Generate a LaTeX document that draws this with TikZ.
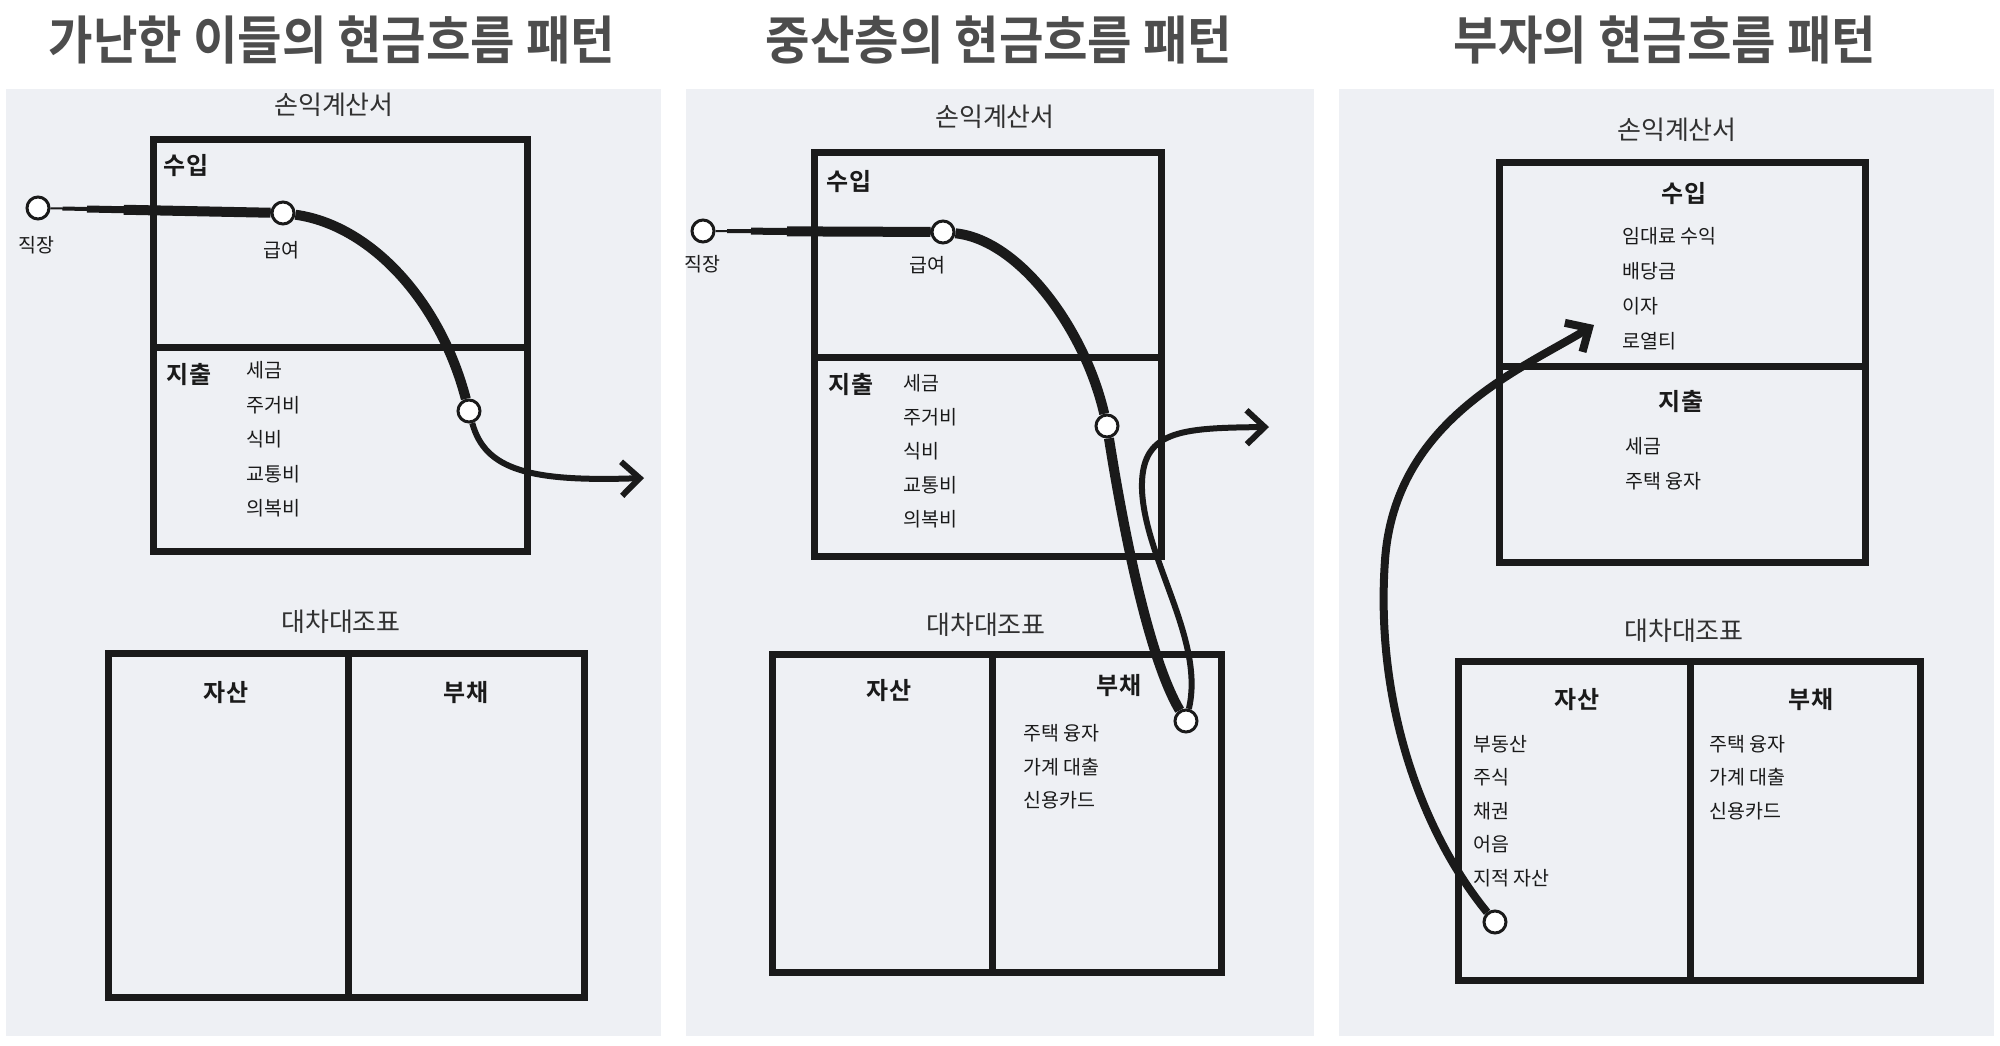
\documentclass[tikz,border=0pt]{standalone}
\usepackage{fontspec}
\setmainfont{Noto Sans CJK KR}[BoldFont={Noto Sans CJK KR Bold}]
\newfontfamily\ttlfont{Noto Sans CJK KR Bold}[FakeStretch=0.93]
\usepackage{tikz}
\usetikzlibrary{arrows.meta,calc}
\definecolor{paper}{HTML}{EEF0F4}
\definecolor{ink}{HTML}{1A1A1A}
\definecolor{ttlgray}{HTML}{4D4D4D}
\pgfdeclarelayer{back}
\pgfdeclarelayer{front}
\pgfsetlayers{back,main,front}
\tikzstyle{ttl} = [text=ttlgray, font=\ttlfont\fontsize{52}{56}\selectfont]
\tikzstyle{sheet} = [text=ink!90, font=\fontsize{26}{28}\selectfont]
\tikzstyle{hdr} = [text=ink, font=\bfseries\fontsize{24}{26}\selectfont]
\tikzstyle{itm} = [text=ink, anchor=west, inner sep=0pt, font=\fontsize{19.5}{21}\selectfont]
\tikzstyle{lbl} = [text=ink, font=\fontsize{19.5}{21}\selectfont]
\tikzstyle{ndpt} = [draw=ink, line width=3pt, fill=white, shape=circle, minimum size=22pt, inner sep=0pt]
\tikzstyle{sheetbox} = [draw=ink, line width=7pt]
\tikzstyle{flow} = [style={draw=ink, line width=10pt}]
\tikzstyle{flowtip} = [style={-{Straight Barb[length=18pt,width=34pt]}, draw=ink, line width=6pt}]

\begin{document}
\begin{tikzpicture}[x=1pt,y=-1pt]
        \useasboundingbox (0,0) rectangle (2000,1046);
        \begin{pgfonlayer}{back}
        \fill[paper] (6,89) rectangle (661,1036);
        \fill[paper] (686,89) rectangle (1314,1036);
        \fill[paper] (1339,89) rectangle (1994,1036);
        \end{pgfonlayer}
        \node[ttl] (t1) at (332,40) {가난한 이들의 현금흐름 패턴};
        \node[ttl] (t2) at (999,40) {중산층의 현금흐름 패턴};
        \node[ttl] (t3) at (1665,40) {부자의 현금흐름 패턴};

        % poor
        \node[sheet] (is1) at (334,105) {손익계산서};
        \draw[sheetbox] (153,140) rectangle (527,551);
        \draw[sheetbox] (153,347) -- (527,347);
        \node[hdr] (inc1) at (186,166) {수입};
        \node[hdr] (exp1) at (189,375) {지출};
        \foreach \t [count=\i] in {세금,주거비,식비,교통비,의복비}
          \node[itm] (ex1\i) at (246,336+34.5*\i) {\t};
        \node[lbl] (wl1) at (36,245) {직장};
        \node[lbl] (pl1) at (281,250) {급여};
        \node[sheet] (bs1) at (341,622) {대차대조표};
        \draw[sheetbox] (108,653) rectangle (584,997);
        \draw[sheetbox] (348,653) -- (348,997);
        \node[hdr] (as1) at (226,693) {자산};
        \node[hdr] (li1) at (466,693) {부채};
        \begin{pgfonlayer}{front}
        \node[ndpt] (w1) at (38,208) {};
        \node[ndpt] (p1) at (283,213) {};
        \node[ndpt] (c1) at (469,411) {};
        \end{pgfonlayer}
        \coordinate (a1) at (644,478);
        \draw[draw=ink, line width=2pt] (w1) -- (p1);
        \draw[draw=ink, line width=4pt] ($(w1)!0.1!(p1)$) -- (p1);
        \draw[draw=ink, line width=7pt] ($(w1)!0.2!(p1)$) -- (p1);
        \draw[flow] ($(w1)!0.35!(p1)$) -- (p1);
        \draw[flow] (p1) .. controls (370,225) and (440,300) .. (c1);
        \draw[flowtip] (c1) .. controls (485,470) and (530,482) .. (a1);

        % middle class
        \node[sheet] (is2) at (995,117) {손익계산서};
        \draw[sheetbox] (814,153) rectangle (1161,556);
        \draw[sheetbox] (814,357) -- (1161,357);
        \node[hdr] (inc2) at (849,182) {수입};
        \node[hdr] (exp2) at (851,385) {지출};
        \foreach \t [count=\i] in {세금,주거비,식비,교통비,의복비}
          \node[itm] (ex2\i) at (903,349+34*\i) {\t};
        \node[lbl] (wl2) at (702,264) {직장};
        \node[lbl] (pl2) at (927,265) {급여};
        \node[sheet] (bs2) at (986,625) {대차대조표};
        \draw[sheetbox] (772,654) rectangle (1221,972);
        \draw[sheetbox] (992,654) -- (992,972);
        \node[hdr] (as2) at (889,691) {자산};
        \node[hdr] (li2) at (1119,686) {부채};
        \foreach \t [count=\i] in {주택 융자,가계 대출,신용카드}
          \node[itm] (db2\i) at (1023,700+33.5*\i) {\t};
        \begin{pgfonlayer}{front}
        \node[ndpt] (w2) at (703,231) {};
        \node[ndpt] (p2) at (943,232) {};
        \node[ndpt] (c2) at (1107,426) {};
        \node[ndpt] (d2) at (1186,721) {};
        \end{pgfonlayer}
        \coordinate (a2) at (1269,427);
        \draw[draw=ink, line width=2pt] (w2) -- (p2);
        \draw[draw=ink, line width=4pt] ($(w2)!0.1!(p2)$) -- (p2);
        \draw[draw=ink, line width=7pt] ($(w2)!0.2!(p2)$) -- (p2);
        \draw[flow] ($(w2)!0.35!(p2)$) -- (p2);
        \draw[flow] (p2) .. controls (1020,240) and (1085,330) .. (c2);
        \draw[flow] (c2) .. controls (1125,540) and (1150,660) .. (d2);
        \draw[flowtip] (d2) .. controls (1205,640) and (1145,560) .. (1142,490)
          .. controls (1140,430) and (1180,428) .. (a2);

        % rich
        \node[sheet] (is3) at (1677,130) {손익계산서};
        \draw[sheetbox] (1499,163) rectangle (1865,562);
        \draw[sheetbox] (1499,366) -- (1865,366);
        \node[hdr] (inc3) at (1684,194) {수입};
        \foreach \t [count=\i] in {임대료 수익,배당금,이자,로열티}
          \node[itm] (in3\i) at (1622,201+35*\i) {\t};
        \node[hdr] (exp3) at (1681,402) {지출};
        \foreach \t [count=\i] in {세금,주택 융자}
          \node[itm] (ex3\i) at (1625,411+35*\i) {\t};
        \node[sheet] (bs3) at (1684,631) {대차대조표};
        \draw[sheetbox] (1458,661) rectangle (1920,980);
        \draw[sheetbox] (1690,661) -- (1690,980);
        \node[hdr] (as3) at (1577,700) {자산};
        \node[hdr] (li3) at (1811,700) {부채};
        \foreach \t [count=\i] in {부동산,주식,채권,어음,지적 자산}
          \node[itm] (cr3\i) at (1473,710.5+33.5*\i) {\t};
        \foreach \t [count=\i] in {주택 융자,가계 대출,신용카드}
          \node[itm] (db3\i) at (1709,710.5+33.5*\i) {\t};
        \begin{pgfonlayer}{front}
        \node[ndpt] (s3) at (1495,922) {};
        \end{pgfonlayer}
        \coordinate (a3) at (1594,325);
        \draw[flowtip, line width=8pt] (s3) .. controls (1420,830) and (1375,700) .. (1385,560)
          .. controls (1395,420) and (1520,370) .. (a3);
      \end{tikzpicture}
\end{document}
